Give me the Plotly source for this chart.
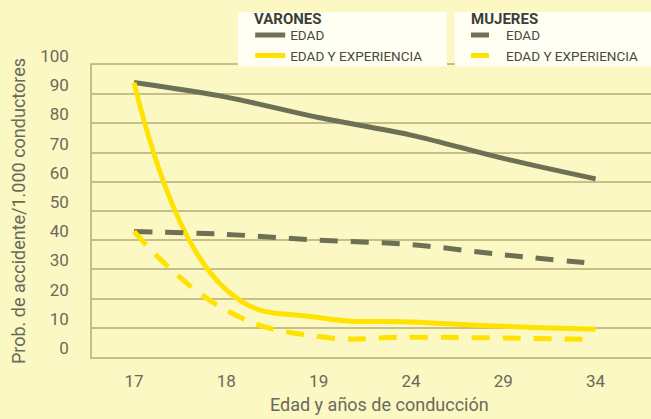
import plotly.graph_objects as go

# ---- data ----
categories = ["17", "18", "19", "24", "29", "34"]
varones_edad = [94, 89, 82, 76, 68, 61]
varones_edad_exp = [94, 23, 13.5, 12, 10.5, 9.5]
mujeres_edad = [43, 42, 40, 38.5, 35, 32]
mujeres_edad_exp = [43, 16, 7, 6.8, 6.5, 6]
y_ticks = [0, 10, 20, 30, 40, 50, 60, 70, 80, 90, 100]

FONT = "Roboto, sans-serif"
GRAY = "#6e7055"
YELLOW = "#ffe200"
BG = "#fcf8c3"
GRID = "#c6bf88"
TXT = "#6a6a5a"
BOX = "#fffff4"

fig = go.Figure()
fig.add_trace(go.Scatter(x=categories, y=varones_edad, name="EDAD", mode="lines",
                         line=dict(color=GRAY, width=5, shape="spline"), legend="legend"))
fig.add_trace(go.Scatter(x=categories, y=varones_edad_exp, name="EDAD Y EXPERIENCIA", mode="lines",
                         line=dict(color=YELLOW, width=5, shape="spline", smoothing=1.3), legend="legend"))
fig.add_trace(go.Scatter(x=categories, y=mujeres_edad, name="EDAD", mode="lines",
                         line=dict(color=GRAY, width=5, shape="spline", dash="18px,13px"), legend="legend2"))
fig.add_trace(go.Scatter(x=categories, y=mujeres_edad_exp, name="EDAD Y EXPERIENCIA", mode="lines",
                         line=dict(color=YELLOW, width=5, shape="spline", smoothing=1.3, dash="18px,13px"),
                         legend="legend2"))

legend_common = dict(
    bgcolor="rgba(0,0,0,0)", borderwidth=0, yref="container", y=0.953, yanchor="top",
    xanchor="left", font=dict(family=FONT, size=13.5, color="#4a4a40"),
    tracegroupgap=0, itemwidth=30,
)

fig.update_layout(
    width=651, height=419,
    margin=dict(l=92, r=0, t=65, b=62, autoexpand=False),
    paper_bgcolor=BG, plot_bgcolor=BG,
    font=dict(family=FONT, size=17, color=TXT),
    showlegend=True,
    legend=dict(x=0.283, **legend_common),
    legend2=dict(x=0.669, **legend_common),
    shapes=[
        dict(type="rect", xref="paper", yref="paper", x0=0.261, x1=0.635, y0=0.996, y1=1.1815,
             fillcolor=BOX, line=dict(width=0), layer="above"),
        dict(type="rect", xref="paper", yref="paper", x0=0.649, x1=1.01, y0=0.996, y1=1.1815,
             fillcolor=BOX, line=dict(width=0), layer="above"),
    ],
    annotations=[
        dict(text="<b>VARONES</b>", xref="paper", yref="paper", x=0.287, y=1.156, xanchor="left",
             yanchor="middle", showarrow=False, font=dict(family=FONT, size=15, color="#3e3e36")),
        dict(text="<b>MUJERES</b>", xref="paper", yref="paper", x=0.674, y=1.156, xanchor="left",
             yanchor="middle", showarrow=False, font=dict(family=FONT, size=15, color="#3e3e36")),
        dict(text="Edad y años de conducción", xref="paper", yref="paper", x=0.515, y=-0.164,
             xanchor="center", yanchor="middle", showarrow=False, font=dict(family=FONT, size=18, color=TXT)),
    ],
    xaxis=dict(type="category", range=[-0.455, 5.6], showgrid=False, showline=True, linecolor=GRID,
               linewidth=1.5, mirror=True, ticks="", ticklabelstandoff=8, automargin=False,
               tickfont=dict(size=17, color=TXT)),
    yaxis=dict(range=[0, 100], tickvals=y_ticks, showgrid=True, gridcolor=GRID, gridwidth=1.5,
               showline=True, linecolor=GRID, linewidth=1.5, zeroline=False, ticks="",
               ticklabelstandoff=18, ticklabelshift=-9, automargin=False,
               title=dict(text="Prob. de accidente/1.000 conductores", standoff=10, font=dict(size=18, color=TXT)),
               tickfont=dict(size=17, color=TXT)),
)

fig.write_html("out.html", config={"displayModeBar": False},
               post_script="document.body.style.margin='0';document.body.style.background='" + BG + "';")
